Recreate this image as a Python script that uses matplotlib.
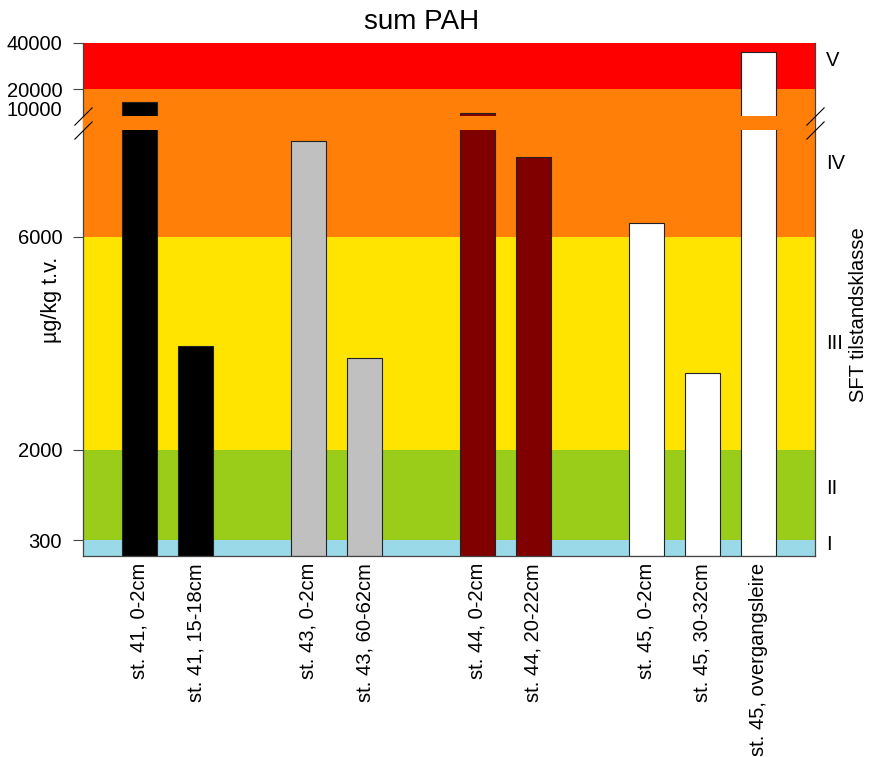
import numpy as np
import matplotlib
matplotlib.use("Agg")
import matplotlib.pyplot as plt
import matplotlib.transforms as mtransforms

plt.rcParams['font.family'] = ['Liberation Sans', 'DejaVu Sans']

# sample data (sum PAH, ug/kg t.v.)
samples = ['st. 41, 0-2cm', 'st. 41, 15-18cm',
           'st. 43, 0-2cm', 'st. 43, 60-62cm',
           'st. 44, 0-2cm', 'st. 44, 20-22cm',
           'st. 45, 0-2cm', 'st. 45, 30-32cm', 'st. 45, overgangsleire']
stations = [41, 41, 43, 43, 44, 44, 45, 45, 45]
sum_pah = [13300, 3950, 7800, 3720, 9425, 7490, 6260, 3440, 36100]

station_colors = {41: '#000000', 43: '#C0C0C0', 44: '#800000', 45: '#FFFFFF'}

# SFT tilstandsklasse limits
class_limits = [0, 300, 2000, 6000, 20000, 40000]
class_names = ['I', 'II', 'III', 'IV', 'V']
class_colors = ['#99D9E8', '#9ACD1A', '#FFE400', '#FF7F08', '#FF0000']
class_label_pos = [225, 1260, 4000, 7370, 32500]

ytick_vals = [300, 2000, 6000, 10000, 20000, 40000]

# broken axis: linear below the break, compressed above it
break_lo, break_hi = 8000, 9000
scale_vals = [0, break_lo, break_hi, 10000, 20000, 40000]
scale_pos = [0, 425.5, 439.3, 447.3, 466.7, 512.7]


def forward(v):
    return np.interp(v, scale_vals, scale_pos)


def inverse(p):
    return np.interp(p, scale_pos, scale_vals)


fig = plt.figure(figsize=(8.71, 7.57), dpi=100)
ax = fig.add_axes([83 / 871, 1 - 556 / 757, 732 / 871, 513 / 757])
ax.set_yscale('function', functions=(forward, inverse))
ax.set_ylim(0, 40000)

# bar positions: one empty slot between stations
group_idx = np.cumsum([0] + [int(a != b) for a, b in zip(stations[:-1], stations[1:])])
x = np.arange(len(samples)) + group_idx
ax.set_xlim(-1, x[-1] + 1)

for lo, hi, c in zip(class_limits[:-1], class_limits[1:], class_colors):
    ax.axhspan(lo, hi, color=c, lw=0, zorder=0)

ax.bar(x, sum_pah, width=0.62, color=[station_colors[s] for s in stations],
       edgecolor='#222222', linewidth=0.8, zorder=2)

# gap for the axis break
ax.axhspan(break_lo, break_hi, color=class_colors[3], lw=0, zorder=3)

trans = mtransforms.blended_transform_factory(ax.transAxes, ax.transData)
ax.plot([0, 0, 1, 1], [break_lo, break_hi, break_lo, break_hi], ls='none',
        marker=[(-1, -1), (1, 1)], ms=13, mfc='none', mec='black', mew=0.8,
        transform=trans, clip_on=False, zorder=5)

for name, pos in zip(class_names, class_label_pos):
    ax.text(1.015, pos, name, transform=trans, va='center', ha='left', fontsize=14.5)

ax.set_yticks(ytick_vals)
ax.set_yticklabels([str(v) for v in ytick_vals], fontsize=14.5)
ax.tick_params(axis='y', length=7, width=0.8, pad=8, color='#444444')
ax.yaxis.get_major_ticks()[3].tick1line.set_visible(False)

ax.set_xticks(x)
ax.set_xticklabels(samples, rotation=90, fontsize=14.5, va='top', ha='center')
ax.tick_params(axis='x', length=0, pad=5)

ax.spines['top'].set_visible(False)
for side in ['left', 'right', 'bottom']:
    ax.spines[side].set_color('#444444')
    ax.spines[side].set_linewidth(0.9)

fig.text(422 / 871, 1 - 22 / 757, 'sum PAH', ha='center', va='center', fontsize=20)
fig.text(51 / 871, 1 - 300 / 757, 'µg/kg t.v.', rotation=90, ha='center', va='center', fontsize=15.5)
fig.text(858 / 871, 1 - 315 / 757, 'SFT tilstandsklasse', rotation=90, ha='center', va='center', fontsize=14.5)

fig.savefig('out.png', dpi=100)
